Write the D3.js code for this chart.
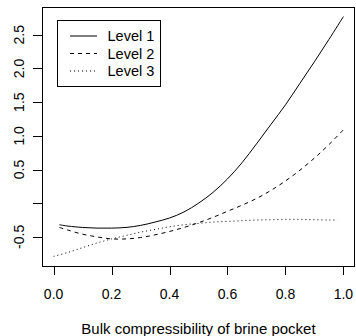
<!DOCTYPE html>
<html>
<head>
<meta charset="utf-8">
<script src="https://cdn.jsdelivr.net/npm/d3@7"></script>
<style>
  html, body { margin: 0; padding: 0; background: #fff; }
  svg { display: block; }
  text { font-family: "Liberation Sans", Arial, Helvetica, sans-serif; fill: #000; }
</style>
</head>
<body>
<svg id="chart" width="356" height="336"></svg>
<script>
// ---- data ----
const x12 = [0.02, 0.05, 0.1, 0.15, 0.2, 0.25, 0.3, 0.35, 0.4, 0.45, 0.5, 0.55, 0.6, 0.65, 0.7, 0.75, 0.8, 0.85, 0.9, 0.95, 1.0];
const level1 = [-0.32, -0.34, -0.36, -0.37, -0.37, -0.36, -0.33, -0.28, -0.22, -0.13, 0.0, 0.16, 0.36, 0.60, 0.88, 1.17, 1.46, 1.78, 2.10, 2.43, 2.77];
const level2 = [-0.36, -0.40, -0.46, -0.50, -0.53, -0.53, -0.51, -0.47, -0.42, -0.36, -0.29, -0.21, -0.12, -0.03, 0.07, 0.19, 0.33, 0.49, 0.67, 0.87, 1.09];
const x3 = [0.0, 0.05, 0.1, 0.15, 0.2, 0.25, 0.3, 0.35, 0.4, 0.45, 0.5, 0.55, 0.6, 0.65, 0.7, 0.75, 0.8, 0.85, 0.9, 0.95, 0.98];
const level3 = [-0.79, -0.73, -0.66, -0.59, -0.53, -0.48, -0.43, -0.39, -0.35, -0.32, -0.30, -0.28, -0.27, -0.26, -0.25, -0.245, -0.24, -0.24, -0.245, -0.25, -0.25];
const seriesNames = ["Level 1", "Level 2", "Level 3"];
const xTicks = [0.0, 0.2, 0.4, 0.6, 0.8, 1.0];
const xTickLabels = ["0.0", "0.2", "0.4", "0.6", "0.8", "1.0"];
const yTicks = [-0.5, 0.0, 0.5, 1.0, 1.5, 2.0, 2.5];
const yTickLabels = ["-0.5", "", "0.5", "1.0", "1.5", "2.0", "2.5"];
const xLabel = "Bulk compressibility of brine pocket";

// ---- layout ----
const svg = d3.select("#chart");
const box = { left: 42, right: 355, top: 7, bottom: 266 };

const xExt = [0, 1];
const allY = level1.concat(level2, level3);
const yExt = d3.extent(allY);
const pad = (e) => { const d = (e[1] - e[0]) * 0.04; return [e[0] - d, e[1] + d]; };

const x = d3.scaleLinear().domain(pad(xExt)).range([box.left, box.right]);
const y = d3.scaleLinear().domain(pad(yExt)).range([box.bottom, box.top]);

const series = [
  { name: seriesNames[0], xs: x12, ys: level1, dash: null },
  { name: seriesNames[1], xs: x12, ys: level2, dash: "4,4" },
  { name: seriesNames[2], xs: x3, ys: level3, dash: "1,3" }
];

const line = d3.line().curve(d3.curveCatmullRom.alpha(0.5));

series.forEach(s => {
  const pts = s.xs.map((v, i) => [x(v), y(s.ys[i])]);
  svg.append("path")
    .attr("d", line(pts))
    .attr("fill", "none")
    .attr("stroke", "#000")
    .attr("stroke-width", 1)
    .attr("stroke-dasharray", s.dash);
});

// plot box
svg.append("rect")
  .attr("x", box.left + 0.5).attr("y", box.top + 0.5)
  .attr("width", box.right - box.left - 1).attr("height", box.bottom - box.top)
  .attr("fill", "none").attr("stroke", "#000").attr("stroke-width", 1);

// x axis ticks
const gx = svg.append("g");
xTicks.forEach((t, i) => {
  const px = Math.round(x(t)) + 0.5;
  gx.append("line").attr("x1", px).attr("x2", px).attr("y1", box.bottom + 1).attr("y2", box.bottom + 9)
    .attr("stroke", "#000").attr("stroke-width", 1);
  gx.append("text").attr("x", x(t)).attr("y", 298.5).attr("text-anchor", "middle")
    .style("font-size", "14px").text(xTickLabels[i]);
});

// y axis ticks
const gy = svg.append("g");
yTicks.forEach((t, i) => {
  const py = Math.round(y(t)) + 0.5;
  gy.append("line").attr("x1", box.left - 9).attr("x2", box.left).attr("y1", py).attr("y2", py)
    .attr("stroke", "#000").attr("stroke-width", 1);
  if (yTickLabels[i]) {
    gy.append("text").attr("transform", `translate(23.5,${y(t)}) rotate(-90)`)
      .attr("text-anchor", "middle").style("font-size", "14px").text(yTickLabels[i]);
  }
});

// x label
svg.append("text").attr("x", (x(0) + x(1)) / 2).attr("y", 334).attr("text-anchor", "middle")
  .style("font-size", "15px").text(xLabel);

// legend
const lg = svg.append("g");
lg.append("rect").attr("x", 57.5).attr("y", 20.5).attr("width", 103).attr("height", 66)
  .attr("fill", "#fff").attr("stroke", "#000").attr("stroke-width", 1);
series.forEach((s, i) => {
  const ry = 36 + i * 17.5;
  lg.append("line").attr("x1", 70).attr("x2", 97).attr("y1", ry).attr("y2", ry)
    .attr("stroke", "#000").attr("stroke-width", 1).attr("stroke-dasharray", s.dash);
  lg.append("text").attr("x", 107.5).attr("y", ry + 5).style("font-size", "14.5px").text(s.name);
});
</script>
</body>
</html>
